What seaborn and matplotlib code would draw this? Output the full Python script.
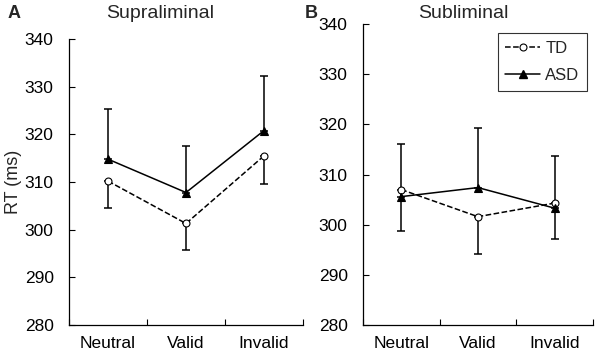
import numpy as np
import pandas as pd
import matplotlib
matplotlib.use("Agg")
import matplotlib.pyplot as plt
import seaborn as sns
from matplotlib.lines import Line2D

sns.set_theme(style="ticks")
plt.rcParams['font.family'] = ['Liberation Sans', 'DejaVu Sans']

# data
conditions = ["Neutral", "Valid", "Invalid"]
groups = ["TD", "ASD"]

supra_td = [310.2, 301.3, 315.5]
supra_td_err = [5.7, 5.6, 5.9]
supra_asd = [314.8, 307.8, 320.8]
supra_asd_err = [10.5, 9.8, 11.4]

sub_td = [307.0, 301.6, 304.3]
sub_td_err = [8.2, 7.4, 7.2]
sub_asd = [305.6, 307.4, 303.3]
sub_asd_err = [10.4, 11.9, 10.3]

fig = plt.figure(figsize=(6, 3.57), dpi=100)
axA = fig.add_axes([0.115, 0.0896, 0.39, 0.801])
axB = fig.add_axes([0.605, 0.0896, 0.383, 0.843])

styles = {
    "TD": dict(marker="o", linestyle="--", mfc="white", ms=5),
    "ASD": dict(marker="^", linestyle="-", mfc="black", ms=5.5),
}


def draw_panel(ax, td, td_err, asd, asd_err):
    vals = {"TD": (td, td_err, -1), "ASD": (asd, asd_err, 1)}
    for g in groups:
        y, err, side = vals[g]
        df = pd.DataFrame({"cond": conditions, "rt": y})
        st = styles[g]
        # one-sided error bars: ASD up, TD down
        lo = [e if side < 0 else 0 for e in err]
        hi = [e if side > 0 else 0 for e in err]
        ax.errorbar(range(3), y, yerr=[lo, hi], fmt="none", ecolor="black",
                    elinewidth=1.1, capsize=3, capthick=1.1, zorder=1)
        sns.pointplot(data=df, x="cond", y="rt", order=conditions, ax=ax,
                      color="black", markers=st["marker"],
                      linestyles=st["linestyle"], errorbar=None,
                      markerfacecolor=st["mfc"], markeredgecolor="black",
                      markersize=st["ms"], markeredgewidth=0.8, linewidth=1.1)
    ax.set_ylim(280, 340)
    ax.set_yticks(np.arange(280, 341, 10))
    ax.set_xlim(-0.5, 2.5)
    ax.set_xticks(range(3))
    ax.set_xticks([-0.5, 0.5, 1.5, 2.5], minor=True)
    ax.tick_params(axis="x", which="major", length=0, labelsize=12.5, pad=8,
                   colors="black")
    ax.tick_params(axis="x", which="minor", length=4, direction="in",
                   width=0.8, color="black")
    ax.tick_params(axis="y", length=4, direction="in", width=0.8,
                   labelsize=12.5, colors="black", pad=11)
    ax.set_xlabel("")
    ax.set_ylabel("")
    for s in ["top", "right"]:
        ax.spines[s].set_visible(False)
    for s in ["left", "bottom"]:
        ax.spines[s].set_color("black")
        ax.spines[s].set_linewidth(0.9)
    ax.set_facecolor("white")


draw_panel(axA, supra_td, supra_td_err, supra_asd, supra_asd_err)
draw_panel(axB, sub_td, sub_td_err, sub_asd, sub_asd_err)

axA.set_ylabel("RT (ms)", fontsize=13, labelpad=2)

fig.text(0.267, 0.963, "Supraliminal", ha="center", va="center", fontsize=14)
fig.text(0.772, 0.963, "Subliminal", ha="center", va="center", fontsize=14)
fig.text(0.013, 0.963, "A", ha="left", va="center", fontsize=13, weight="bold")
fig.text(0.508, 0.963, "B", ha="left", va="center", fontsize=13, weight="bold")

handles = [
    Line2D([], [], color="black", linestyle="--", marker="o", mfc="white",
           mec="black", ms=5, lw=1.1, markeredgewidth=0.8),
    Line2D([], [], color="black", linestyle="-", marker="^", mfc="black",
           mec="black", ms=5.5, lw=1.1),
]
leg = axB.legend(handles, groups, loc="upper right", bbox_to_anchor=(0.974, 0.97),
                 borderaxespad=0, fontsize=12, frameon=True, fancybox=False,
                 handlelength=2.1, borderpad=0.45, labelspacing=0.75,
                 handletextpad=0.3)
leg.get_frame().set_edgecolor("black")
leg.get_frame().set_linewidth(0.8)

fig.savefig("out.png", dpi=100, facecolor="white")
